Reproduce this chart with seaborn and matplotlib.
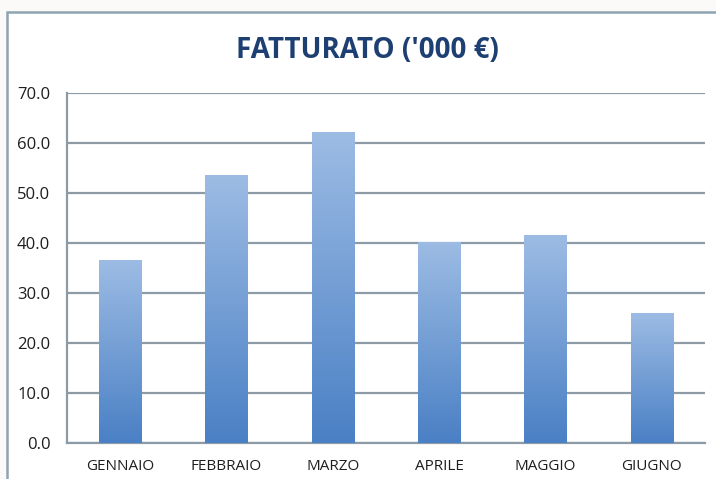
import matplotlib
matplotlib.use("Agg")
import matplotlib.pyplot as plt
from matplotlib.patches import Rectangle
import numpy as np
import pandas as pd
import seaborn as sns

months = ["GENNAIO", "FEBBRAIO", "MARZO", "APRILE", "MAGGIO", "GIUGNO"]
fatturato = [36.7, 53.7, 62.2, 40.2, 41.6, 26.1]
y_ticks = [0, 10, 20, 30, 40, 50, 60, 70]

df = pd.DataFrame({"mese": months, "valore": fatturato})

sns.set_style("white")
plt.rcParams["font.family"] = ["Open Sans", "DejaVu Sans"]

fig = plt.figure(figsize=(7.16, 4.79), dpi=100)
fig.patch.set_facecolor("#fbfaf9")
# chart frame (runs off the right and bottom edge as in the original)
fig.patches.append(Rectangle((7 / 716, -0.05), 1.2, 1 - 12 / 479 + 0.05,
                             transform=fig.transFigure, facecolor="white",
                             edgecolor="#8fa4b3", lw=1.8, zorder=-10))

ax = fig.add_axes([67 / 716, 1 - 443.3 / 479, (705 - 67) / 716, (443.3 - 93) / 479])
ax.set_facecolor("white")

sns.barplot(data=df, x="mese", y="valore", order=months, width=0.4,
            color="#6f9bd4", ax=ax, zorder=3)

# vertical gradient fill: light on top, darker at the base
grad_cmap = matplotlib.colors.LinearSegmentedColormap.from_list(
    "bar", ["#4a80c5", "#9dbce4"])
grad = np.linspace(0, 1, 256).reshape(-1, 1)
for patch in ax.patches:
    x0, y0 = patch.get_x(), patch.get_y()
    w, h = patch.get_width(), patch.get_height()
    patch.set_facecolor("none")
    patch.set_edgecolor("none")
    im = ax.imshow(grad, cmap=grad_cmap, origin="lower", aspect="auto",
                   extent=(x0, x0 + w, y0, y0 + h), zorder=3)
    im.set_clip_path(patch)

ax.set_xlim(-0.5, len(months) - 0.5)
ax.set_ylim(0, 70)
ax.set_yticks(y_ticks)
ax.set_yticklabels([f"{v:.1f}" for v in y_ticks])
ax.yaxis.grid(True, color="#8c9ba6", lw=1.6, zorder=0)
ax.set_axisbelow(True)
ax.tick_params(axis="both", length=0, labelcolor="#1e1e1e")
ax.tick_params(axis="y", pad=12, labelsize=12)
ax.tick_params(axis="x", pad=11, labelsize=11)
for lbl in ax.get_xticklabels() + ax.get_yticklabels():
    lbl.set_fontweight("medium")
ax.set_xlabel("")
ax.set_ylabel("")

for side in ["top", "right"]:
    ax.spines[side].set_visible(False)
for side in ["left", "bottom"]:
    ax.spines[side].set_color("#8c9ba6")
    ax.spines[side].set_linewidth(1.6)

fig.text(367 / 716, 1 - 50 / 479, "FATTURATO ('000 €)", ha="center", va="center",
         fontsize=20, fontweight="bold", color="#1d3f72")

fig.savefig("out.png", dpi=100, facecolor=fig.get_facecolor())
